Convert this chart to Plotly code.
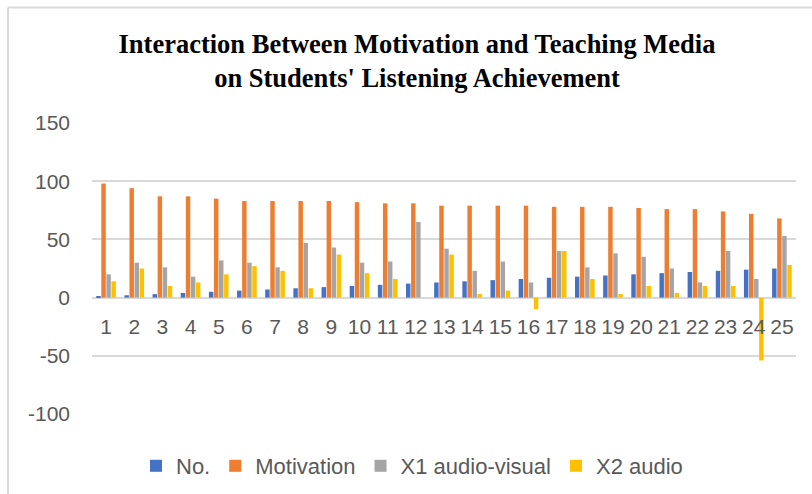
import plotly.graph_objects as go

categories = [str(i) for i in range(1, 26)]
no_values = list(range(1, 26))
motivation = [98, 94, 87, 87, 85, 83, 83, 83, 83, 82, 81, 81, 79, 79, 79, 79, 78, 78, 78, 77, 76, 76, 74, 72, 68]
x1_audio_visual = [20, 30, 26, 18, 32, 30, 26, 47, 43, 30, 31, 65, 42, 23, 31, 13, 40, 26, 38, 35, 25, 13, 40, 16, 53]
x2_audio = [14, 25, 10, 13, 20, 27, 23, 8, 37, 21, 16, 0, 37, 3, 6, -10, 40, 16, 3, 10, 4, 10, 10, -54, 28]
y_ticks = [-100, -50, 0, 50, 100, 150]
y_tick_labels = ["-100", "-50", "0", "50", "100", "150"]

series = [
    ("No.", no_values, "#4472C4"),
    ("Motivation", motivation, "#ED7D31"),
    ("X1 audio-visual", x1_audio_visual, "#A5A5A5"),
    ("X2 audio", x2_audio, "#FFC000"),
]

fig = go.Figure()
for name, vals, color in series:
    fig.add_trace(go.Bar(x=categories, y=vals, name=name, marker=dict(color=color, line=dict(width=0))))

font_sans = "Liberation Sans"
grid = "#d9d9d9"
text_col = "#595959"

fig.update_layout(
    width=812, height=494,
    margin=dict(l=92, r=16, t=123, b=80, autoexpand=False),
    paper_bgcolor="white", plot_bgcolor="white",
    barmode="group", bargap=0.28, bargroupgap=0.12,
    title=dict(
        text="Interaction Between Motivation and Teaching Media<br>on Students' Listening Achievement",
        font=dict(family="Liberation Serif", size=26.5, color="black", weight="bold"),
        x=417/812, xref="container", xanchor="center",
        y=1 - 53/494, yref="container", yanchor="middle",
    ),
    legend=dict(
        orientation="h", x=(412-92)/704, xanchor="center",
        y=1 - 466/494, yref="container", yanchor="middle",
        font=dict(family=font_sans, size=22, color=text_col),
        itemwidth=30, tracegroupgap=0,
    ),
    xaxis=dict(
        type="category", anchor="free", position=0.4,
        showgrid=False, showline=False, ticks="",
        tickfont=dict(family=font_sans, size=21, color=text_col),
        ticklabelstandoff=14, automargin=False,
    ),
    yaxis=dict(
        range=[-100, 150], tickvals=y_ticks, ticktext=y_tick_labels,
        showgrid=True, gridcolor=grid, gridwidth=1.5,
        zeroline=True, zerolinecolor=grid, zerolinewidth=1.5,
        showline=False, ticks="",
        tickfont=dict(family=font_sans, size=21, color=text_col),
        ticklabelstandoff=21, automargin=False,
    ),
    shapes=[
        dict(type="line", xref="paper", yref="paper", x0=(8-92)/704, x1=(8-92)/704,
             y0=(414-8)/290.7, y1=-0.35, line=dict(color=grid, width=2)),
        dict(type="line", xref="paper", yref="paper", x0=(8-92)/704, x1=1.05,
             y0=(414-8)/290.7, y1=(414-8)/290.7, line=dict(color=grid, width=2)),
    ],
)

fig.write_html("out.html", config={"displayModeBar": False},
               post_script="document.body.style.margin='0';")
